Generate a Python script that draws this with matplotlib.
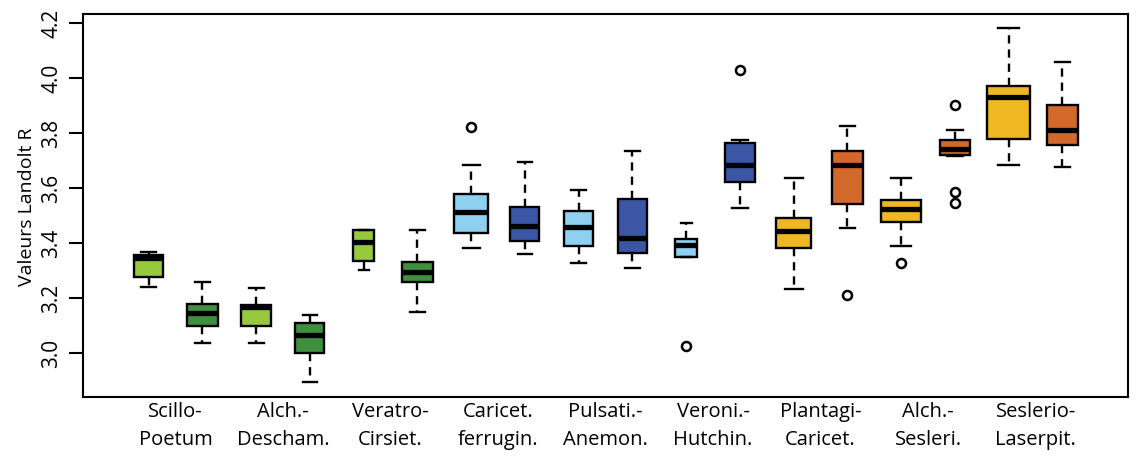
import matplotlib
matplotlib.use("Agg")
import matplotlib.pyplot as plt
import numpy as np

# vegetation units (two boxes each)
groups = ["Scillo-\nPoetum", "Alch.-\nDescham.", "Veratro-\nCirsiet.", "Caricet.\nferrugin.",
          "Pulsati.-\nAnemon.", "Veroni.-\nHutchin.", "Plantagi-\nCaricet.", "Alch.-\nSesleri.",
          "Seslerio-\nLaserpit."]

# box statistics (18 boxes, left to right)
whislo = [3.239, 3.034, 3.034, 2.892, 3.300, 3.149, 3.381, 3.358, 3.326,
          3.308, 3.348, 3.526, 3.230, 3.453, 3.389, 3.714, 3.683, 3.677]
q1 = [3.274, 3.096, 3.096, 3.000, 3.332, 3.257, 3.435, 3.407, 3.389,
      3.363, 3.348, 3.622, 3.382, 3.540, 3.477, 3.719, 3.777, 3.755]
med = [3.344, 3.145, 3.165, 3.065, 3.402, 3.295, 3.513, 3.462, 3.459,
       3.418, 3.390, 3.682, 3.441, 3.683, 3.522, 3.742, 3.929, 3.810]
q3 = [3.354, 3.176, 3.173, 3.107, 3.445, 3.330, 3.576, 3.530, 3.517,
      3.558, 3.412, 3.764, 3.491, 3.732, 3.555, 3.773, 3.970, 3.901]
whishi = [3.366, 3.259, 3.234, 3.138, 3.445, 3.445, 3.683, 3.694, 3.591,
          3.732, 3.472, 3.775, 3.636, 3.823, 3.636, 3.810, 4.180, 4.057]
fliers = [[], [], [], [], [], [], [3.820], [], [],
          [], [3.023], [4.028], [], [3.209], [3.326], [3.901, 3.586, 3.546], [], []]
# number of releves per box (box width ~ sqrt(n))
n_obs = [10, 11, 11, 10, 5, 11, 14, 10, 10, 10, 6, 11, 15, 11, 19, 11, 22, 11]

colors = ["#97C93D", "#3F8F3F", "#97C93D", "#3F8F3F", "#97C93D", "#3F8F3F",
          "#8DD0F0", "#3A56A5", "#8DD0F0", "#3A56A5", "#8DD0F0", "#3A56A5",
          "#EFB722", "#D2692B", "#EFB722", "#D2692B", "#EFB722", "#D2692B"]

plt.rcParams['font.family'] = ['Open Sans', 'DejaVu Sans']

fig = plt.figure(figsize=(11.36, 4.64), dpi=100)
ax = fig.add_axes([0.0731, 0.1417, 0.9199, 0.8260])

stats = []
for i in range(len(med)):
    stats.append(dict(whislo=whislo[i], q1=q1[i], med=med[i], q3=q3[i],
                      whishi=whishi[i], fliers=fliers[i]))

nmax = max(n_obs)
widths = [0.8 * np.sqrt(n / nmax) for n in n_obs]
pos = np.arange(1, len(med) + 1)

bp = ax.bxp(stats, positions=pos, widths=widths, capwidths=[w / 2 for w in widths],
            patch_artist=True, showfliers=True,
            boxprops=dict(edgecolor="black", linewidth=1.7),
            medianprops=dict(color="black", linewidth=3.8, solid_capstyle="butt"),
            whiskerprops=dict(color="black", linewidth=1.7, linestyle=(0, (3.5, 2.5))),
            capprops=dict(color="black", linewidth=1.7),
            flierprops=dict(marker="o", markerfacecolor="white", markeredgecolor="black",
                            markersize=6.5, markeredgewidth=1.8))
for patch, c in zip(bp["boxes"], colors):
    patch.set_facecolor(c)

ax.set_xlim(-0.22, 19.22)
ax.set_ylim(2.838, 4.232)
ax.set_yticks([3.0, 3.2, 3.4, 3.6, 3.8, 4.0, 4.2])
ax.set_yticklabels(["3.0", "3.2", "3.4", "3.6", "3.8", "4.0", "4.2"], rotation=90, va="center")
ax.tick_params(axis="y", length=10, width=1.5, labelsize=15, pad=5)
ax.set_xticks(np.arange(1.5, 19, 2))
ax.set_xticklabels(groups, fontsize=14.5, linespacing=1.5)
ax.tick_params(axis="x", length=0, pad=3)
ax.set_ylabel("Valeurs Landolt R", fontsize=14, labelpad=4)
for s in ax.spines.values():
    s.set_linewidth(1.5)

fig.savefig("out.png", dpi=100)
